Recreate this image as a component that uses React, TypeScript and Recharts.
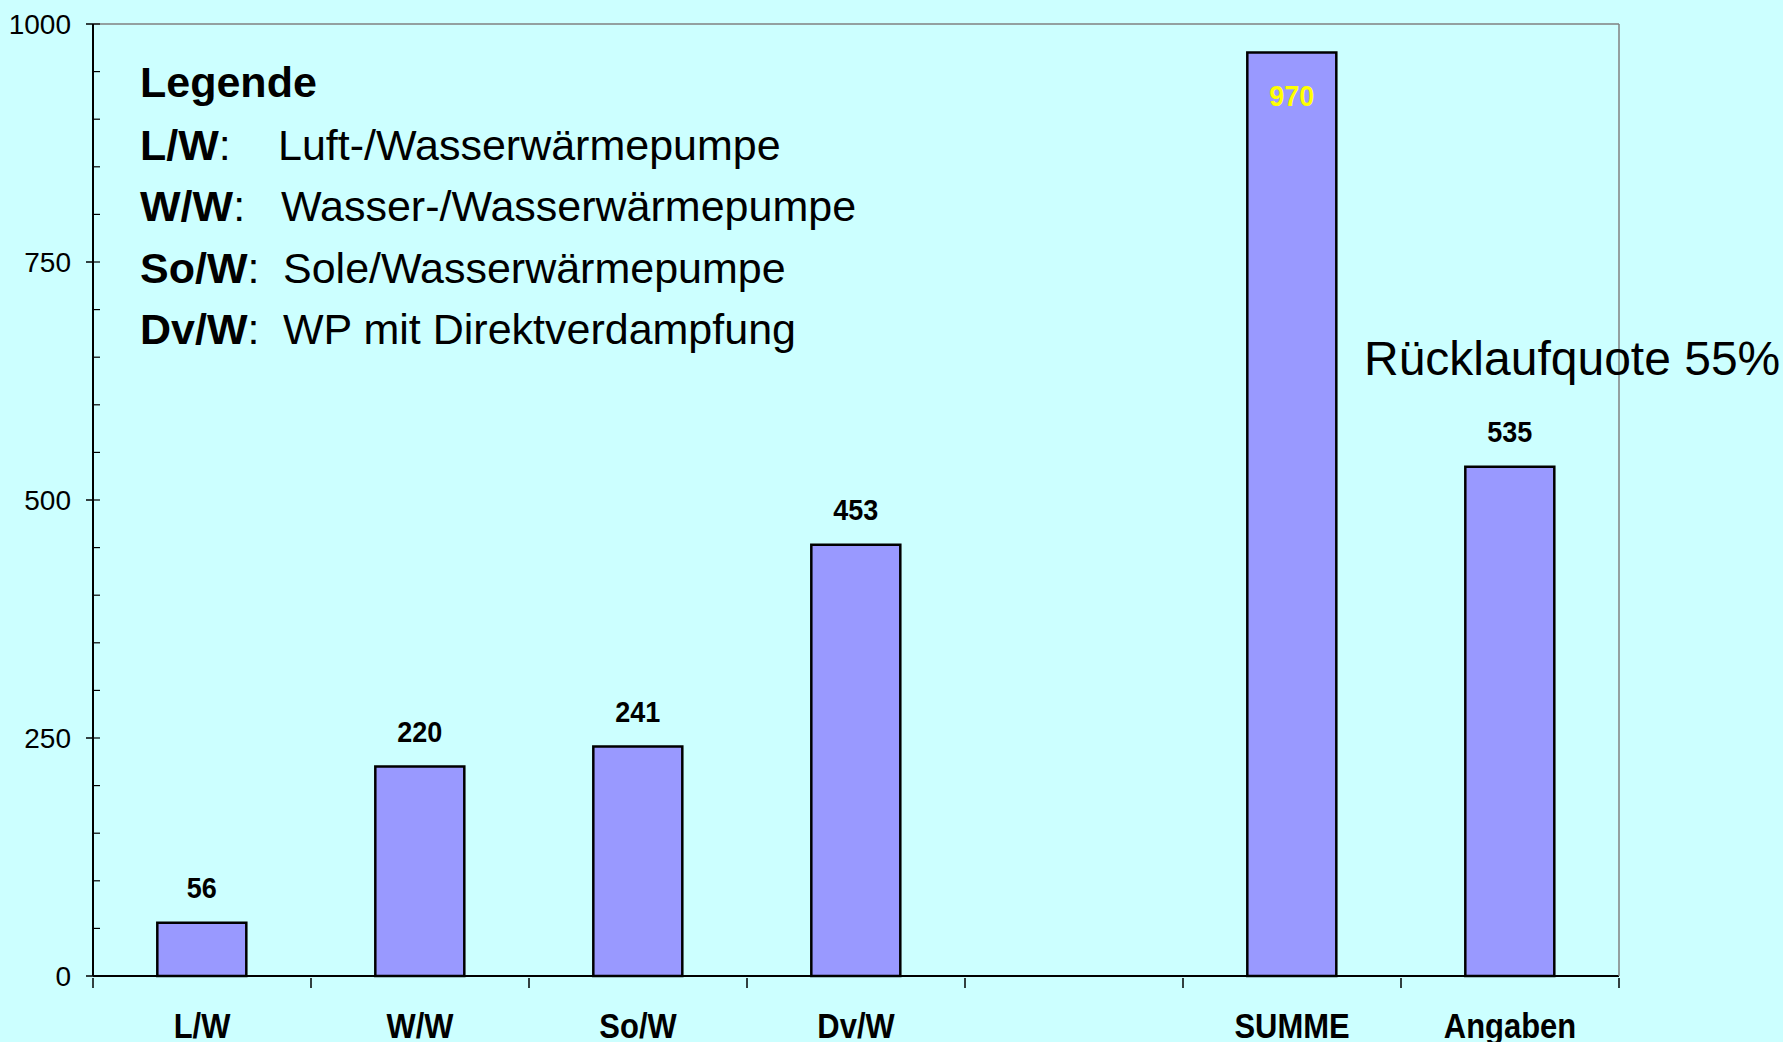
import React from 'react';
import { BarChart, Bar, XAxis, YAxis, LabelList } from 'recharts';

const categories = ['L/W', 'W/W', 'So/W', 'Dv/W', '', 'SUMME', 'Angaben'];
const counts = [56, 220, 241, 453, null, 970, 535];
const yTicks = [0, 250, 500, 750, 1000];
const minorTicks = [0, 50, 100, 150, 200, 250, 300, 350, 400, 450, 500, 550, 600, 650, 700, 750, 800, 850, 900, 950, 1000];
const legendTitle = 'Legende';
const legendKeys = ['L/W', 'W/W', 'So/W', 'Dv/W'];
const legendTexts = ['Luft-/Wasserwärmepumpe', 'Wasser-/Wasserwärmepumpe', 'Sole/Wasserwärmepumpe', 'WP mit Direktverdampfung'];
const note = 'Rücklaufquote 55%';
const highlight = 'SUMME';

const chartData = categories.map((name, i) => ({ name, value: counts[i] }));

const BG = '#CCFFFF';
const SANS = '"Liberation Sans", Arial, sans-serif';

const W = 1783;
const H = 1042;
const MARGIN = { top: 23, right: 163, bottom: 0, left: 0 };
const Y_WIDTH = 93;
const PLOT_W = W - MARGIN.left - MARGIN.right - Y_WIDTH - 1;
const HALF_BAND = PLOT_W / categories.length / 2;

const descX = [278, 281, 283, 283];
const rowTop = [124, 185, 247, 308];

// LabelList skips empty entries, so find the highlighted bar by its value
const BarLabel = (props: any) => {
  const { x, y, width, value } = props;
  if (value == null) return null;
  const inside = value === counts[categories.indexOf(highlight)];
  const cx = x + width / 2;
  const ty = inside ? y + 53 : y - 25;
  return (
    <text
      transform={`translate(${cx},${ty}) scale(0.9,1)`}
      textAnchor="middle"
      fontFamily={SANS}
      fontWeight="bold"
      fontSize={30}
      fill={inside ? '#FFFF00' : '#000'}
    >
      {value}
    </text>
  );
};

// Excel-style axis: tick marks sit between the categories, labels in the middle
const XTick = (props: any) => {
  const { x, y, payload, index } = props;
  const last = index === categories.length - 1;
  return (
    <g>
      <line x1={x - HALF_BAND} x2={x - HALF_BAND} y1={y} y2={y + 10} stroke="#000" strokeWidth={1.5} />
      {last && <line x1={x + HALF_BAND} x2={x + HALF_BAND} y1={y} y2={y + 10} stroke="#000" strokeWidth={1.5} />}
      <text
        transform={`translate(${x},${y + 60}) scale(0.86,1)`}
        textAnchor="middle"
        fontFamily={SANS}
        fontWeight="bold"
        fontSize={36}
        fill="#000"
      >
        {payload.value}
      </text>
    </g>
  );
};

const YTick = (props: any) => {
  const { x, y, payload } = props;
  return (
    <text x={x} y={y} dy="0.355em" textAnchor="end" fontFamily={SANS} fontSize={28} fill="#000">
      {payload.value}
    </text>
  );
};

const NoLabel = () => <g />;

export default function App() {
  return (
    <div style={{ position: 'absolute', left: 0, top: 0, width: W, height: H, background: BG, overflow: 'hidden' }}>
      <BarChart width={W} height={H} data={chartData} margin={MARGIN} barCategoryGap="29.5%">
        <XAxis
          dataKey="name"
          height={66}
          tickSize={0}
          tickLine={false}
          tick={<XTick />}
          interval={0}
          axisLine={{ stroke: '#000', strokeWidth: 2 }}
        />
        <XAxis
          xAxisId="top"
          orientation="top"
          type="number"
          scale="linear"
          domain={[0, 1]}
          allowDataOverflow
          height={1}
          tick={false}
          tickLine={false}
          axisLine={{ stroke: '#808080', strokeWidth: 1.5 }}
        />
        <YAxis
          domain={[0, 1000]}
          ticks={yTicks}
          width={Y_WIDTH}
          tickSize={7}
          tickMargin={15}
          axisLine={{ stroke: '#000', strokeWidth: 2 }}
          tickLine={{ stroke: '#000', strokeWidth: 1.5 }}
          tick={<YTick />}
        />
        <YAxis
          yAxisId="minor"
          domain={[0, 1000]}
          allowDataOverflow
          ticks={minorTicks}
          width={1}
          mirror
          tick={<NoLabel />}
          tickSize={7}
          axisLine={false}
          tickLine={{ stroke: '#000', strokeWidth: 1.2 }}
        />
        <YAxis
          yAxisId="right"
          orientation="right"
          domain={[0, 1000]}
          allowDataOverflow
          width={1}
          tick={false}
          tickLine={false}
          axisLine={{ stroke: '#808080', strokeWidth: 1.5 }}
        />
        <Bar dataKey="value" fill="#9999FF" stroke="#000" strokeWidth={2.5} isAnimationActive={false}>
          <LabelList dataKey="value" content={<BarLabel />} />
        </Bar>
      </BarChart>

      <div style={{ position: 'absolute', left: 140, top: 61, fontFamily: SANS, fontSize: 43, lineHeight: '42px', fontWeight: 'bold', whiteSpace: 'nowrap' }}>
        {legendTitle}
      </div>
      {legendKeys.map((k, i) => (
        <React.Fragment key={k}>
          <div style={{ position: 'absolute', left: 140, top: rowTop[i], fontFamily: SANS, fontSize: 43, lineHeight: '42px', whiteSpace: 'nowrap' }}>
            <b>{k}</b>:
          </div>
          <div style={{ position: 'absolute', left: descX[i], top: rowTop[i], fontFamily: SANS, fontSize: 43, lineHeight: '42px', whiteSpace: 'nowrap' }}>
            {legendTexts[i]}
          </div>
        </React.Fragment>
      ))}
      <div style={{ position: 'absolute', left: 1364, top: 335, fontFamily: SANS, fontSize: 48, lineHeight: '48px', whiteSpace: 'nowrap' }}>
        {note}
      </div>
    </div>
  );
}
